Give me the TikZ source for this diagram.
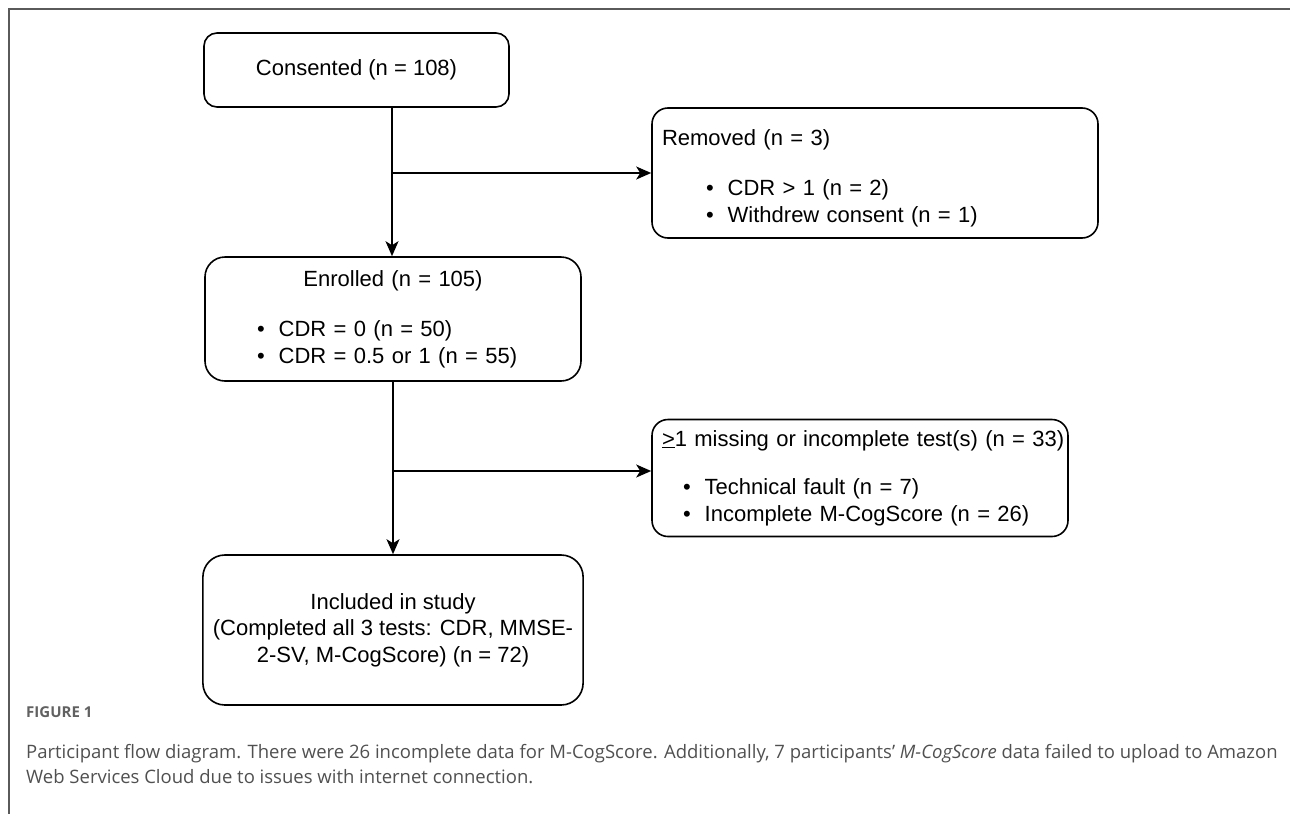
\documentclass[tikz,border=0pt]{standalone}
\usepackage{fontspec}
\setmainfont{Liberation Sans}
\newfontfamily\capfont{Open Sans}
\usetikzlibrary{arrows.meta}
\definecolor{framegray}{HTML}{5A5A5A}
\definecolor{capgray}{HTML}{505050}
\newcommand{\bul}{\textbullet\hspace{14pt}}

\begin{document}
\begin{tikzpicture}[x=1pt,y=-1pt,>={Stealth[length=15pt,width=13pt,inset=4pt]},
  box/.style={draw,line width=1.6pt,rounded corners=#1,inner xsep=10pt,inner ysep=0pt,
    font=\fontsize{22}{26.5}\selectfont},
  box/.default=16pt,
  flow/.style={->,line width=1.6pt},
  captxt/.style={anchor=base west,inner sep=0pt,text=capgray,font=\capfont\fontsize{18.5}{22}\selectfont}]
  \useasboundingbox (0,0) rectangle (1290,814);
  % frame of the figure panel
  \draw[framegray,line width=1.5pt] (1290,9) -- (9,9) -- (9,814);
  % boxes
  \node[box=13pt,minimum width=305pt,minimum height=74pt] (consent) at (356.5,70) {Consented (n = 108)};
  \node[box=16pt,minimum height=130pt,text width=426pt,align=left] (removed) at (875,173)
    {\rule{0pt}{26pt}Removed (n = 3)\\[24pt]\hspace*{44pt}\bul CDR > 1 (n = 2)\\\hspace*{44pt}\bul Withdrew consent (n = 1)};
  \node[box=20pt,minimum height=124pt,text width=356pt,align=left] (enrolled) at (393,319)
    {\makebox[356pt]{Enrolled (n = 105)}\\[24pt]\hspace*{42pt}\bul CDR = 0 (n = 50)\\\hspace*{42pt}\bul CDR = 0.5 or 1 (n = 55)};
  \node[box=16pt,minimum height=117pt,text width=396pt,align=left] (missing) at (860,478)
    {\mbox{\underline{>}1 missing or incomplete test(s) (n = 33)}\\[22pt]\hspace*{21pt}\bul Technical fault (n = 7)\\\hspace*{21pt}\bul Incomplete M-CogScore (n = 26)};
  \node[box=22pt,minimum width=376pt,minimum height=150pt,align=center] (included) at (393,630)
    {Included in study\\(Completed all 3 tests: CDR, MMSE-\\2-SV, M-CogScore) (n = 72)};
  % connectors
  \coordinate (c1) at ([xshift=35.5pt]consent.south);
  \coordinate (j1) at (c1 |- removed.west);
  \coordinate (j2) at ([yshift=7pt]enrolled.south |- missing.west);
  \draw[flow] (c1) -- (c1 |- enrolled.north);
  \draw[flow] (j1) -- (removed.west);
  \draw[flow] (enrolled.south) -- (included.north);
  \draw[flow] (j2) -- (j2 -| missing.west);
  % caption
  \node[captxt,font=\capfont\bfseries\fontsize{15}{18}\selectfont,text=capgray!90] (fig) at (26,717) {FIGURE 1};
  \node[captxt] (cap1) at (26,758) {Participant flow diagram. There were 26 incomplete data for M-CogScore. Additionally, 7 participants’ \textit{M-CogScore} data failed to upload to Amazon};
  \node[captxt] (cap2) at (26,783) {Web Services Cloud due to issues with internet connection.};
\end{tikzpicture}
\end{document}
